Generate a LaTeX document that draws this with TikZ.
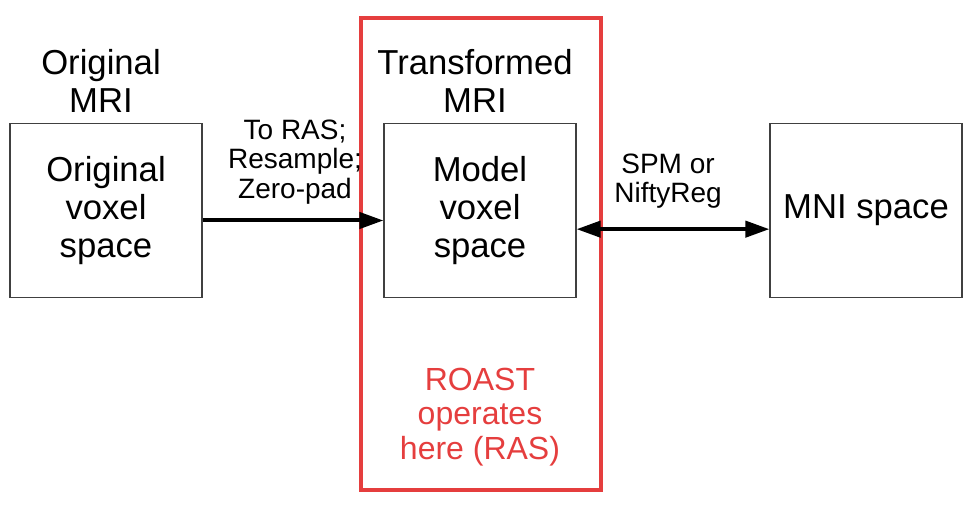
\documentclass[tikz,border=0pt]{standalone}
\usepackage{fontspec}
\setmainfont{Liberation Sans}
\usetikzlibrary{arrows.meta}

\definecolor{roastred}{RGB}{229,62,62}

\tikzset{
    spacebox/.style={draw=black!75, line width=0.8pt, minimum width=144pt, minimum height=130pt, align=center, font=\fontsize{26}{28.5}\selectfont},
    bigtext/.style={align=center, font=\fontsize{26}{28.5}\selectfont},
    smalltext/.style={align=center, font=\fontsize{21}{22}\selectfont},
    arr/.style={line width=3pt, -{Triangle[length=18pt, width=12pt]}}
}

\begin{document}
\begin{tikzpicture}[x=0.75pt, y=-0.75pt]
    \useasboundingbox (0,0) rectangle (979,505);

    % red frame
    \draw[roastred, line width=3pt] (361,18) rectangle (601,490);

    % boxes
    \node[spacebox] (orig) at (106,210.5) {Original\\voxel\\space};
    \node[spacebox] (model) at (480,210.5) {Model\\voxel\\space};
    \node[spacebox] (mni) at (866,210.5) {MNI space};

    % titles
    \node[bigtext] (origtitle) at (101,81) {Original\\MRI};
    \node[bigtext] (transtitle) at (475,81) {Transformed\\MRI};
    \node[align=center, text=roastred, font=\fontsize{24}{26}\selectfont] (roast) at (480,417) {ROAST\\operates\\here (RAS)};

    % arrows
    \draw[arr] ([yshift=-7.5pt]orig.east) -- ([yshift=-7.5pt]model.west);
    \draw[arr, {Triangle[length=18pt, width=12pt]}-{Triangle[length=18pt, width=12pt]}] ([yshift=-14pt]model.east) -- ([yshift=-14pt]mni.west);

    % labels
    \node[smalltext] (toras) at (295,162) {To RAS;\\Resample;\\Zero-pad};
    \node[smalltext] (spm) at (668,181) {SPM or\\NiftyReg};
\end{tikzpicture}
\end{document}
